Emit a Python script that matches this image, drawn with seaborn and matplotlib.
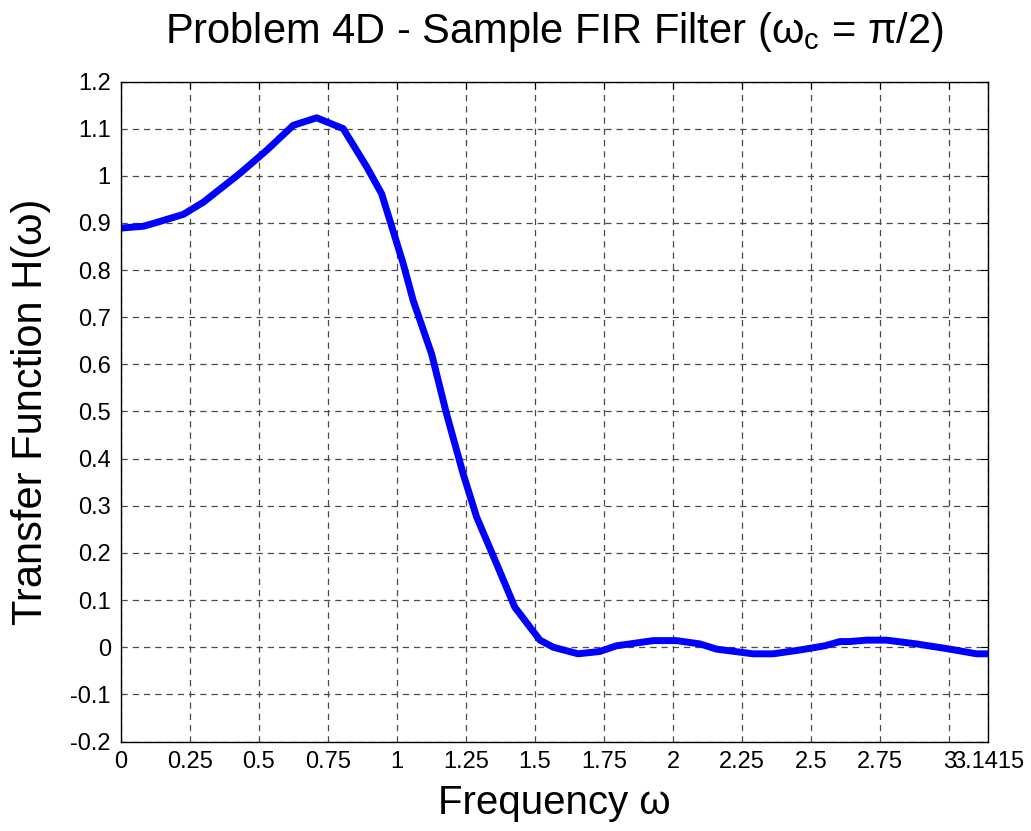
# FIR filter transfer function, MATLAB-style figure
import numpy as np
import pandas as pd
import matplotlib
matplotlib.use("Agg")
import matplotlib.pyplot as plt
import seaborn as sns

# ======================
# data
# ======================
freq = [0.0, 0.083, 0.125, 0.227, 0.30, 0.432, 0.529, 0.625, 0.71, 0.806,
        0.891, 0.945, 1.023, 1.059, 1.126, 1.180, 1.240, 1.289, 1.361, 1.427,
        1.518, 1.566, 1.656, 1.735, 1.795, 1.928, 2.012, 2.097, 2.157, 2.289,
        2.362, 2.458, 2.549, 2.604, 2.64, 2.70, 2.772, 2.881, 3.001, 3.098,
        3.1415]
h_resp = [0.889, 0.893, 0.900, 0.918, 0.944, 1.005, 1.054, 1.107, 1.123, 1.100,
          1.019, 0.962, 0.814, 0.736, 0.622, 0.495, 0.368, 0.276, 0.177, 0.085,
          0.015, 0.0, -0.014, -0.009, 0.003, 0.014, 0.014, 0.007, -0.004, -0.014,
          -0.014, -0.006, 0.003, 0.012, 0.012, 0.015, 0.015, 0.007, -0.004, -0.014,
          -0.014]

xticks = [0, 0.25, 0.5, 0.75, 1, 1.25, 1.5, 1.75, 2, 2.25, 2.5, 2.75, 3, 3.1415]
xtick_labels = ["0", "0.25", "0.5", "0.75", "1", "1.25", "1.5", "1.75", "2",
                "2.25", "2.5", "2.75", "3", "3.1415"]
yticks = [-0.2, -0.1, 0, 0.1, 0.2, 0.3, 0.4, 0.5, 0.6, 0.7, 0.8, 0.9, 1, 1.1, 1.2]
ytick_labels = ["-0.2", "-0.1", "0", "0.1", "0.2", "0.3", "0.4", "0.5", "0.6",
                "0.7", "0.8", "0.9", "1", "1.1", "1.2"]

df = pd.DataFrame({"w": freq, "H": h_resp})

# ======================
# style
# ======================
sns.set_theme(style="white")
plt.rcParams["font.family"] = ["Liberation Sans", "DejaVu Sans"]
plt.rcParams["mathtext.fontset"] = "custom"
plt.rcParams["mathtext.rm"] = "Liberation Sans"
plt.rcParams["mathtext.it"] = "Liberation Sans"
plt.rcParams.update({
    "text.color": "black",
    "axes.labelcolor": "black",
    "xtick.color": "black",
    "ytick.color": "black",
})

fig = plt.figure(figsize=(10.31, 8.31), dpi=100)
ax = fig.add_axes([120.5 / 1031, 1 - 741.5 / 831, 868 / 1031, 660 / 831])

sns.lineplot(data=df, x="w", y="H", color="#0000ff", linewidth=5,
             solid_joinstyle="round", solid_capstyle="butt", ax=ax)

ax.set_xlim(0, 3.1415)
ax.set_ylim(-0.2, 1.2)
ax.set_xticks(xticks)
ax.set_xticklabels(xtick_labels)
ax.set_yticks(yticks)
ax.set_yticklabels(ytick_labels)

ax.grid(True, color="#4a4a4a", linestyle=(0, (5, 4)), linewidth=0.9)
ax.tick_params(direction="in", length=5, width=0.8, top=True, right=True,
               labelsize=17, color="black", pad=7)
for s in ax.spines.values():
    s.set_visible(True)
    s.set_color("black")
    s.set_linewidth(1.0)

# "3" and "3.1415" sit close together, as in the original MATLAB figure
ax.set_xlabel("Frequency ω", fontsize=29, labelpad=8)
ax.set_ylabel("Transfer Function H(ω)", fontsize=30, labelpad=14)
ax.set_title(r"Problem 4D - Sample FIR Filter (ω$_\mathrm{c}$ = π/2)", fontsize=30, pad=28)

fig.savefig("out.png", dpi=100)
